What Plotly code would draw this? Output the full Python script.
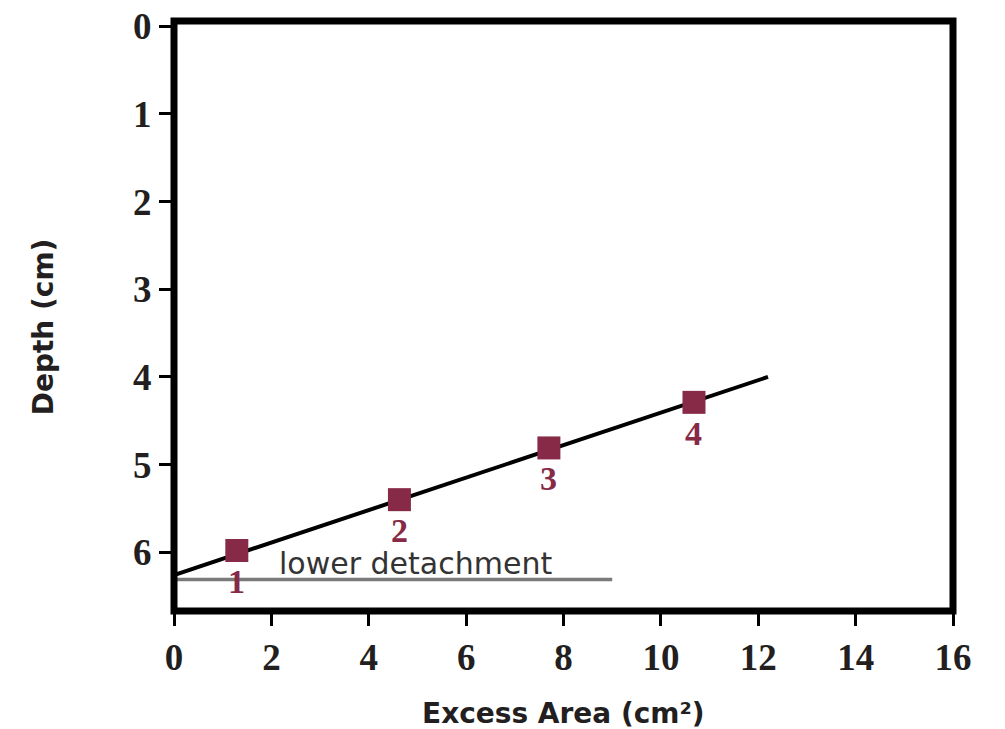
import plotly.graph_objects as go

# Data
area = [1.29, 4.63, 7.70, 10.68]
depth = [5.98, 5.40, 4.81, 4.29]
point_labels = ["1", "2", "3", "4"]
fit_x = [0.0, 12.2]
fit_y = [6.26, 4.00]
detach_x = [0.0, 9.0]
detach_y = [6.31, 6.31]
x_ticks = [0, 2, 4, 6, 8, 10, 12, 14, 16]
y_ticks = [0, 1, 2, 3, 4, 5, 6]

maroon = "#862a47"
tick_font = dict(family="Liberation Serif", size=37, color="#231f20")
title_font = dict(family="DejaVu Sans", size=28, color="#231f20")

fig = go.Figure()
fig.add_trace(go.Scatter(x=detach_x, y=detach_y, mode="lines",
                         line=dict(color="#7a7a7a", width=3.5), showlegend=False))
fig.add_trace(go.Scatter(x=fit_x, y=fit_y, mode="lines",
                         line=dict(color="black", width=4), showlegend=False))
fig.add_trace(go.Scatter(x=area, y=depth, mode="markers",
                         marker=dict(symbol="square", size=23, color=maroon),
                         showlegend=False))

for xv, yv, lab in zip(area, depth, point_labels):
    fig.add_annotation(x=xv, y=yv, text="<b>" + lab + "</b>", showarrow=False,
                       yshift=-31, font=dict(family="Liberation Serif", size=34, color=maroon))

fig.add_annotation(x=4.96, y=6.13, text="lower detachment", showarrow=False,
                   font=dict(family="DejaVu Sans", size=30, color="#333333"))

# Axis titles
fig.add_annotation(xref="paper", yref="paper", x=0.5, y=-0.173, yanchor="middle",
                   text="<b>Excess Area (cm²)</b>", showarrow=False, font=title_font)
fig.add_annotation(xref="paper", yref="paper", x=-0.168, y=0.481, xanchor="center",
                   yanchor="middle", textangle=-90,
                   text="<b>Depth (cm)</b>", showarrow=False, font=title_font)

# Frame
fig.add_shape(type="rect", xref="paper", yref="paper", x0=0, y0=0, x1=1, y1=1,
              line=dict(color="black", width=7), fillcolor="rgba(0,0,0,0)")

fig.update_xaxes(range=[0, 16], tickvals=x_ticks, ticktext=["<b>%d</b>" % v for v in x_ticks],
                 ticks="outside", ticklen=14, tickwidth=3, tickcolor="black",
                 showgrid=False, zeroline=False, showline=False, tickfont=tick_font,
                 ticklabeloverflow="allow", automargin=False)
fig.update_yaxes(range=[6.67, -0.06], tickvals=y_ticks, ticktext=["<b>%d</b>" % v for v in y_ticks],
                 ticks="outside", ticklen=14, tickwidth=3, tickcolor="black",
                 showgrid=False, zeroline=False, showline=False, tickfont=tick_font,
                 ticklabeloverflow="allow", automargin=False)

fig.update_layout(width=1005, height=729, plot_bgcolor="white", paper_bgcolor="white",
                  margin=dict(l=166, r=60, t=13, b=126))

fig.write_html("out.html")
